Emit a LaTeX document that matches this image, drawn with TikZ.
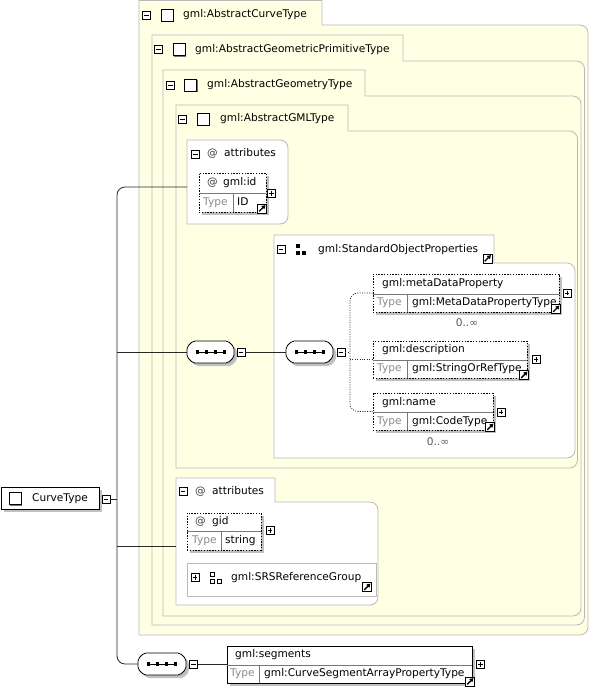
\documentclass[tikz,border=0pt]{standalone}
\usepackage{fontspec}
\setmainfont{DejaVu Sans}
\usetikzlibrary{arrows.meta}
\definecolor{cream}{RGB}{255,255,228}
\definecolor{framegray}{RGB}{185,185,185}
\definecolor{shadowgray}{RGB}{192,192,192}
\definecolor{typegray}{RGB}{140,140,140}
\definecolor{divgray}{RGB}{120,120,120}
\definecolor{connblack}{RGB}{40,40,40}

\newcommand\tabframe[7]{% L T TR TB R B fill
  \filldraw[framestyle, fill=#7] (#1,#2) -- (#3,#2) -- (#3,#4) -- ({#5-8},#4)
    .. controls ({#5-3.6},#4) and (#5,{#4+3.6}) .. (#5,{#4+8}) -- (#5,{#6-8})
    .. controls (#5,{#6-3.6}) and ({#5-3.6},#6) .. ({#5-8},#6) -- (#1,#6) -- cycle;}

\newcommand\elem[8]{% name x1 y1 x2 y2 ydiv xdiv style
  \fill[shadowgray] ({#2+3},{#3+3}) rectangle ({#4+3},{#5+3});
  \node[#8, minimum width={(#4-#2)*1pt}, minimum height={(#5-#3)*1pt}] (#1) at ({(#2+#4)/2},{(#3+#5)/2}) {};
  \draw[divline] (#2,#6) -- (#4,#6);
  \draw[divline] (#7,#6) -- (#7,#5);}

\newcommand\seqnode[5]{% name x1 y1 x2 y2
  \fill[shadowgray, shift={(3,3)}, rounded corners=2pt] (#2,{#3+6}) -- ({#2+6},#3) -- ({#4-6},#3) -- (#4,{#3+6}) -- (#4,{#5-6}) -- ({#4-6},#5) -- ({#2+6},#5) -- (#2,{#5-6}) -- cycle;
  \filldraw[fill=white, draw=black, line width=0.8pt, rounded corners=2pt] (#2,{#3+6}) -- ({#2+6},#3) -- ({#4-6},#3) -- (#4,{#3+6}) -- (#4,{#5-6}) -- ({#4-6},#5) -- ({#2+6},#5) -- (#2,{#5-6}) -- cycle;
  \node[inner sep=0pt, minimum width={(#4-#2)*1pt}, minimum height={(#5-#3)*1pt}] (#1) at ({(#2+#4)/2},{(#3+#5)/2}) {};
  \draw[line width=0.6pt] ({#2+11},{(#3+#5)/2}) -- ({#2+38},{(#3+#5)/2});
  \foreach \k in {0,1,2,3} \fill ({#2+10.5+9*\k-1.7},{(#3+#5)/2-1.7}) rectangle ++(3.4,3.4);}

\newcommand\hdrsq[3]{% name x y
  \fill[black!55] ({#2-6+1.3},{#3-6+1.3}) rectangle ({#2+6+1.3},{#3+6+1.3});
  \node[hsq] (#1) at (#2,#3) {};}

\begin{document}
\begin{tikzpicture}[x=1pt,y=-1pt,
  every node/.style={font=\fontsize{10.6}{12}\selectfont},
  txt/.style={inner sep=0pt, anchor=west, text height=7.6pt, text depth=2.4pt},
  tgray/.style={txt, text=typegray},
  framestyle/.style={draw=framegray, line width=0.8pt},
  divline/.style={draw=divgray, line width=0.7pt},
  elemdash/.style={draw=black, fill=white, line width=0.8pt, dash pattern=on 1.4pt off 1.4pt, inner sep=0pt},
  elemsolid/.style={draw=black, fill=white, line width=0.8pt, inner sep=0pt},
  conn/.style={draw=connblack, line width=0.8pt},
  dotconn/.style={draw=connblack, line width=0.75pt, dash pattern=on 1pt off 1.4pt},
  minusbox/.style={draw=black, fill=white, line width=0.6pt, minimum size=8pt, inner sep=0pt,
    path picture={\draw[line width=0.6pt] ([xshift=1.6pt]path picture bounding box.west) -- ([xshift=-1.6pt]path picture bounding box.east);}},
  plusbox/.style={minusbox,
    path picture={\draw[line width=0.6pt] ([xshift=1.6pt]path picture bounding box.west) -- ([xshift=-1.6pt]path picture bounding box.east);
      \draw[line width=0.6pt] ([yshift=-1.6pt]path picture bounding box.north) -- ([yshift=1.6pt]path picture bounding box.south);}},
  linkicon/.style={draw=black, fill=white, line width=0.7pt, minimum size=9pt, inner sep=0pt,
    path picture={\draw[line width=1.4pt, -{Triangle[length=3.6pt,width=4.2pt]}] ([shift={(1.7pt,1.7pt)}]path picture bounding box.south west) -- ([shift={(-1.1pt,-1.1pt)}]path picture bounding box.north east);}},
  hsq/.style={draw=black, fill=white, line width=0.6pt, minimum size=12pt, inner sep=0pt}
]
\useasboundingbox (0,0) rectangle (589,689);
\fill[white] (0,0) rectangle (589,689);

% nested frames
\tabframe{139}{0.5}{322}{25}{588}{635}{cream}
\tabframe{152}{35}{403}{61}{584.5}{625}{cream}
\tabframe{163}{70}{365}{96}{581}{616}{cream}
\tabframe{176}{105}{348}{131}{577.5}{468}{cream}

% headers
\node[minusbox] (m1) at (146.5,15) {};
\hdrsq{sq1}{167}{15}
\node[txt] (t1) at (183,15) {gml:AbstractCurveType};
\node[minusbox] (m2) at (158.5,49.5) {};
\hdrsq{sq2}{179}{49.5}
\node[txt] (t2) at (195,49.5) {gml:AbstractGeometricPrimitiveType};
\node[minusbox] (m3) at (170.5,85) {};
\hdrsq{sq3}{190.5}{85}
\node[txt] (t3) at (207,85) {gml:AbstractGeometryType};
\node[minusbox] (m4) at (182.5,119) {};
\hdrsq{sq4}{203}{119}
\node[txt] (t4) at (220,119) {gml:AbstractGMLType};

% attributes 1
\filldraw[framestyle, fill=white] (187,140) -- (280,140) .. controls (284.4,140) and (288,143.6) .. (288,148)
  -- (288,216) .. controls (288,220.4) and (284.4,224) .. (280,224) -- (187,224) -- cycle;
\node[minusbox] (am1) at (195.5,154) {};
\node[txt, text=black!75] (at1) at (207,154) {@};
\node[txt] (al1) at (224,154) {attributes};

% StandardObjectProperties group
\tabframe{274}{235}{494}{263}{575}{458}{white}
\node[minusbox] (sopm) at (281,249.5) {};
\fill (296,243.5) rectangle (300,248);
\fill (296,250.5) rectangle (300,255);
\fill (302,251) rectangle (306,255);
\node[txt] (sopt) at (318,249.5) {gml:StandardObjectProperties};
\node[linkicon] (sopl) at (487.5,258.5) {};

% attributes 2
\tabframe{176}{478}{275}{502}{378}{605}{white}
\node[minusbox] (am2) at (183,491) {};
\node[txt, text=black!75] (at2) at (195,491.5) {@};
\node[txt] (al2) at (212,491.5) {attributes};

% SRS reference group
\node[draw=framegray, fill=white, line width=0.8pt, inner sep=0pt, minimum width=189pt, minimum height=33pt] (srs) at (281.5,579.5) {};
\node[plusbox] (srsp) at (195,577.5) {};
\draw[black, line width=0.6pt] (210.5,572.5) rectangle (214.5,576.5);
\draw[black, line width=0.6pt] (210.5,579.5) rectangle (214.5,583.5);
\draw[black, line width=0.6pt] (217,579.5) rectangle (221,583.5);
\node[txt] (srst) at (231,577.5) {gml:SRSReferenceGroup};
\node[linkicon] (srsl) at (367,587) {};

% connectors
\coordinate (spine) at (117,0);
\coordinate (a1in) at (187,187);
\coordinate (a2in) at (176,546);
\coordinate (fork) at (350,352);

% CurveType
\fill[shadowgray] (4,490) rectangle (102,512);
\node[elemsolid, minimum width=98pt, minimum height=22pt] (ct) at (50,498) {};
\hdrsq{ctsq}{15}{498.5}
\node[txt] (ctt) at (32,498.5) {CurveType};
\node[minusbox] (ctm) at (106,499) {};

% sequences
\seqnode{seq1}{187}{341}{234}{363}
\node[minusbox] (s1m) at (241,352) {};
\seqnode{seq2}{286}{341}{333}{363}
\node[minusbox] (s2m) at (341,352) {};
\seqnode{seq3}{138}{653}{186}{675}
\node[minusbox] (s3m) at (193.5,664) {};

% elements
\elem{gmlid}{199}{173}{266}{212}{193.5}{233}{elemdash}
\node[txt, text=black!75] (gi1) at (207,183) {@};
\node[txt] (gi2) at (223,183) {gml:id};
\node[tgray] (gi3) at (203,203) {Type};
\node[txt] (gi4) at (237,203) {ID};
\node[plusbox] (gip) at (271.5,193.5) {};
\node[linkicon] (gil) at (262,208.5) {};

\elem{meta}{373}{274}{559}{312}{294}{407}{elemdash}
\node[txt] (me1) at (382,283.5) {gml:metaDataProperty};
\node[tgray] (me2) at (377,303) {Type};
\node[txt] (me3) at (412,303) {gml:MetaDataPropertyType};
\node[plusbox] (mep) at (567,293) {};
\node[linkicon] (mel) at (556,309) {};
\node[inner sep=0pt, text=black!65] (me4) at (467,323) {0..∞};

\elem{desc}{373}{341}{527}{378}{360}{407}{elemdash}
\node[txt] (de1) at (382,349.5) {gml:description};
\node[tgray] (de2) at (377,369) {Type};
\node[txt] (de3) at (412,369) {gml:StringOrRefType};
\node[plusbox] (dep) at (536,359.5) {};
\node[linkicon] (del) at (524,375) {};

\elem{nm}{373}{393}{493}{430}{412}{407}{elemdash}
\node[txt] (nm1) at (382,402.5) {gml:name};
\node[tgray] (nm2) at (377,421.5) {Type};
\node[txt] (nm3) at (412,421.5) {gml:CodeType};
\node[plusbox] (nmp) at (501,412) {};
\node[linkicon] (nml) at (490,427) {};
\node[inner sep=0pt, text=black!65] (nm4) at (438,442) {0..∞};

\elem{gid}{187}{513}{261}{550}{531}{221}{elemdash}
\node[txt, text=black!75] (gd1) at (195,522) {@};
\node[txt] (gd2) at (212,522) {gid};
\node[tgray] (gd3) at (192,541) {Type};
\node[txt] (gd4) at (225,541) {string};
\node[plusbox] (gdp) at (270,530.5) {};

\elem{seg}{227}{646}{472}{683}{665}{259}{elemsolid}
\node[txt] (sg1) at (235,655) {gml:segments};
\node[tgray] (sg2) at (230,674) {Type};
\node[txt] (sg3) at (264,674) {gml:CurveSegmentArrayPropertyType};
\node[plusbox] (sgp) at (480.5,664.5) {};
\node[linkicon] (sgl) at (470,681.5) {};

% connector lines
\draw[conn, rounded corners=8pt] (a1in) -| (spine |- seq1.west) |- (seq3.west);
\draw[conn] (ctm.east) -- (ctm.east -| spine);
\draw[conn] (seq1.west) -- (seq1.west -| spine);
\draw[conn] (a2in) -- (a2in -| spine);
\draw[conn] (s1m.east) -- (seq2.west);
\draw[conn] (s3m.east) -- (s3m.east -| seg.west);
\draw[dotconn] (s2m.east) -- (fork);
\draw[dotconn, rounded corners=8pt] (meta.west) -| (fork) |- (nm.west);
\draw[dotconn] (desc.west) -- (desc.west -| fork);
\end{tikzpicture}
\end{document}
